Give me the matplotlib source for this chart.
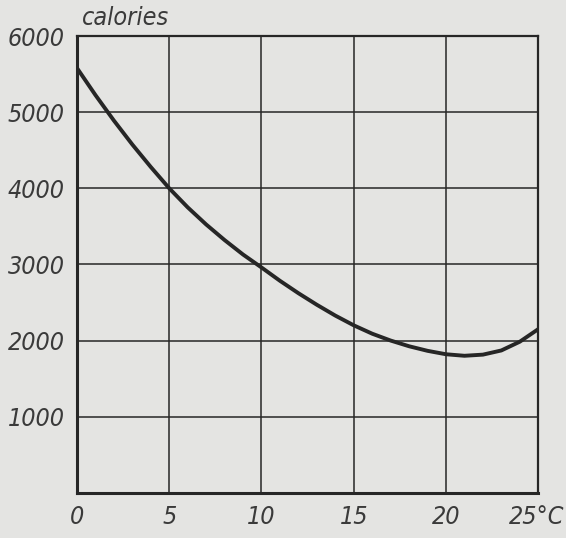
import matplotlib
matplotlib.use("Agg")
import matplotlib.pyplot as plt

# temperature (deg C) and calories
temperature = [0, 1, 2, 3, 4, 5, 6, 7, 8, 9, 10, 11, 12, 13, 14, 15,
               16, 17, 18, 19, 20, 21, 22, 23, 24, 25]
calories = [5580, 5225, 4890, 4575, 4280, 4000, 3750, 3525, 3320, 3130,
            2960, 2785, 2622, 2470, 2328, 2200, 2090, 2000, 1925, 1865,
            1820, 1800, 1815, 1870, 1985, 2150]

x_ticks = [0, 5, 10, 15, 20, 25]
x_labels = ["0", "5", "10", "15", "20", ""]
y_ticks = [1000, 2000, 3000, 4000, 5000, 6000]
y_labels = ["1000", "2000", "3000", "4000", "5000", "6000"]

paper = "#e4e4e2"
ink = "#262626"
font = dict(family="DejaVu Sans", style="italic", stretch="condensed")

fig = plt.figure(figsize=(5.66, 5.38), dpi=100, facecolor=paper)
ax = fig.add_axes([0.136, 0.084, 0.815, 0.849])
ax.set_facecolor(paper)

ax.plot(temperature, calories, color=ink, lw=2.8, solid_capstyle="round")

ax.set_xlim(0, 25)
ax.set_ylim(0, 6000)
ax.set_xticks(x_ticks)
ax.set_yticks(y_ticks)
ax.grid(True, color=ink, lw=1.1)
ax.tick_params(length=0, pad=9, colors="#3a3a3a")
ax.set_xticklabels(x_labels, fontsize=18, **font)
ax.set_yticklabels(y_labels, fontsize=18, **font)

for side in ["left", "bottom"]:
    ax.spines[side].set_linewidth(2.2)
for side in ["right", "top"]:
    ax.spines[side].set_linewidth(1.6)
for sp in ax.spines.values():
    sp.set_color(ink)

ax.annotate("25°C", xy=(23.4, 0), xytext=(0, -9), textcoords="offset points",
            ha="left", va="top", fontsize=18, color="#3a3a3a", **font)
fig.text(82 / 566, 1 - 18 / 538, "calories", ha="left", va="center",
         fontsize=18, color="#3a3a3a", **font)

fig.savefig("out.png", dpi=100, facecolor=paper)
